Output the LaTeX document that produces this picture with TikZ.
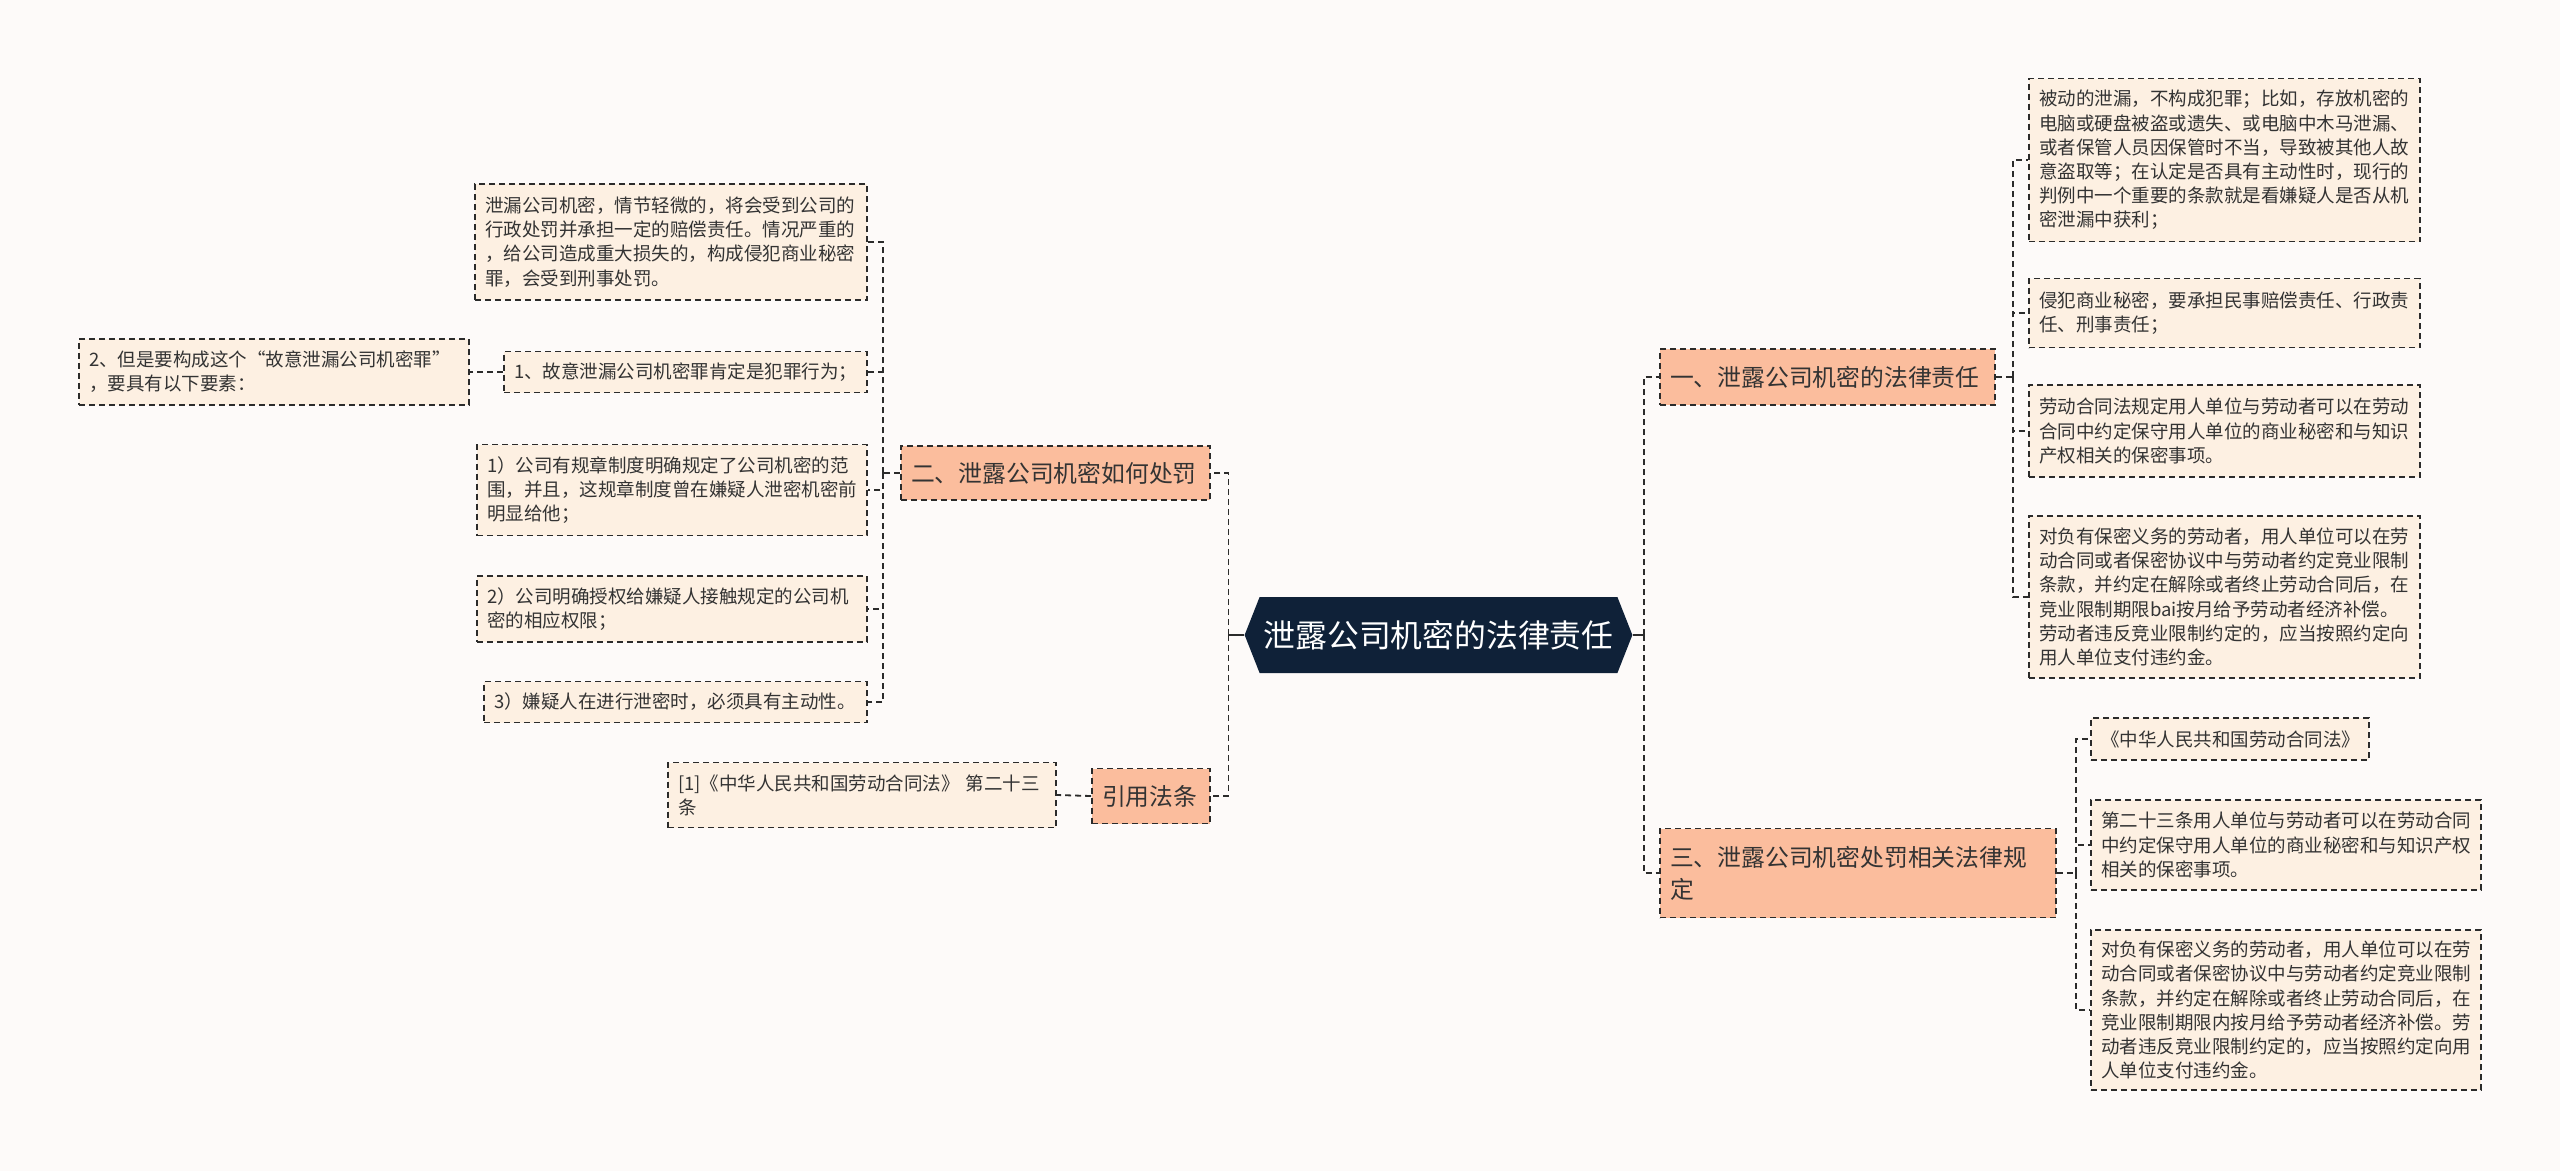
\documentclass[tikz,border=0pt]{standalone}
\usepackage{fontspec}
\setmainfont{Noto Sans CJK SC}
\usepackage{xcolor}
\usetikzlibrary{shapes.symbols}
\definecolor{paper}{HTML}{FDFAF9}
\definecolor{leafbg}{HTML}{FDF0E2}
\definecolor{branchbg}{HTML}{FBBD9D}
\definecolor{rootbg}{HTML}{0F2138}
\definecolor{ink}{HTML}{2B2B2B}
\definecolor{txt}{HTML}{333333}

\begin{document}
\begin{tikzpicture}[x=1pt,y=-1pt,
    box/.style={draw=ink,line width=1.8pt,dash pattern=on 6pt off 4pt,
        align=left,inner xsep=10pt,inner ysep=0pt,text=txt},
    leaf/.style={box,fill=leafbg,font=\fontsize{18.5}{24.2}\selectfont},
    branch/.style={box,fill=branchbg,font=\fontsize{23.8}{32}\selectfont},
    root/.style={signal,signal to=west and east,signal pointer angle=137,
        fill=rootbg,text=white,font=\fontsize{31.8}{36}\selectfont,
        minimum height=76pt,inner xsep=4pt},
    link/.style={draw=ink,line width=1.8pt,dash pattern=on 6pt off 4pt},
    stem/.style={draw=ink,line width=2.5pt}]
\fill [paper] (0,0) rectangle (2560,1171);

\path
    (1438.5,635) node [root] (root) {泄露公司机密的法律责任};

\path
    (1055.5,473) node [branch,text width=289pt,minimum height=54pt] (punish) {二、泄露公司机密如何处罚}
    (1151,796) node [branch,text width=98pt,minimum height=55pt] (cite) {引用法条}
    (1827.5,377) node [branch,text width=315pt,minimum height=56pt] (duty) {一、泄露公司机密的法律责任}
    (1858,873) node [branch,text width=376pt,minimum height=89pt] (statute) {三、泄露公司机密处罚相关法律规\\定};

\path
    (671,242) node [leaf,text width=372pt,minimum height=116pt] (minor) {泄漏公司机密，情节轻微的，将会受到公司的\\行政处罚并承担一定的赔偿责任。情况严重的\\，给公司造成重大损失的，构成侵犯商业秘密\\罪，会受到刑事处罚。}
    (685.5,372) node [leaf,text width=343pt,minimum height=41pt] (intent) {1、故意泄漏公司机密罪肯定是犯罪行为；}
    (274,372) node [leaf,text width=370pt,minimum height=66pt] (elements) {2、但是要构成这个“故意泄漏公司机密罪”\\，要具有以下要素：}
    (672,490) node [leaf,text width=370pt,minimum height=91pt] (scope) {1）公司有规章制度明确规定了公司机密的范\\围，并且，这规章制度曾在嫌疑人泄密机密前\\明显给他；}
    (672,609) node [leaf,text width=370pt,minimum height=66pt] (grant) {2）公司明确授权给嫌疑人接触规定的公司机\\密的相应权限；}
    (675.5,702) node [leaf,text width=363pt,minimum height=41pt] (active) {3）嫌疑人在进行泄密时，必须具有主动性。}
    (862,795) node [leaf,text width=368pt,minimum height=65pt] (article) {[1]《中华人民共和国劳动合同法》 第二十三\\条};

\path
    (2224.5,160) node [leaf,text width=371pt,minimum height=163pt] (passive) {被动的泄漏，不构成犯罪；比如，存放机密的\\电脑或硬盘被盗或遗失、或电脑中木马泄漏、\\或者保管人员因保管时不当，导致被其他人故\\意盗取等；在认定是否具有主动性时，现行的\\判例中一个重要的条款就是看嫌疑人是否从机\\密泄漏中获利；}
    (2224.5,313) node [leaf,text width=371pt,minimum height=69pt] (civil) {侵犯商业秘密，要承担民事赔偿责任、行政责\\任、刑事责任；}
    (2224.5,431) node [leaf,text width=371pt,minimum height=92pt] (contract) {劳动合同法规定用人单位与劳动者可以在劳动\\合同中约定保守用人单位的商业秘密和与知识\\产权相关的保密事项。}
    (2224.5,597) node [leaf,text width=371pt,minimum height=162pt] (noncomp) {对负有保密义务的劳动者，用人单位可以在劳\\动合同或者保密协议中与劳动者约定竞业限制\\条款，并约定在解除或者终止劳动合同后，在\\竞业限制期限bai按月给予劳动者经济补偿。\\劳动者违反竞业限制约定的，应当按照约定向\\用人单位支付违约金。}
    (2230,739) node [leaf,text width=258pt,minimum height=42pt] (lawname) {《中华人民共和国劳动合同法》}
    (2286,845) node [leaf,text width=370pt,minimum height=90pt] (art23) {第二十三条用人单位与劳动者可以在劳动合同\\中约定保守用人单位的商业秘密和与知识产权\\相关的保密事项。}
    (2286,1010) node [leaf,text width=370pt,minimum height=160pt] (clause) {对负有保密义务的劳动者，用人单位可以在劳\\动合同或者保密协议中与劳动者约定竞业限制\\条款，并约定在解除或者终止劳动合同后，在\\竞业限制期限内按月给予劳动者经济补偿。劳\\动者违反竞业限制约定的，应当按照约定向用\\人单位支付违约金。};

\draw [stem] (root.west) -- ++(-16,0) coordinate (lhub);
\draw [stem] (root.east) -- ++(11,0) coordinate (rhub);
\draw [link] (lhub) |- (punish.east);
\draw [link] (lhub) |- (cite.east);
\draw [link] (rhub) |- (duty.west);
\draw [link] (rhub) |- (statute.west);

\draw [link] (punish.west) -- ++(-17,0) coordinate (phub);
\foreach \leaf in {minor,intent,scope,grant,active}
    \draw [link] (phub) |- (\leaf.east);
\draw [link] (intent.west) -- (elements.east);
\draw [link] (cite.west) -- (article.east);

\draw [link] (duty.east) -- ++(17,0) coordinate (dhub);
\foreach \leaf in {passive,civil,contract,noncomp}
    \draw [link] (dhub) |- (\leaf.west);
\draw [link] (statute.east) -- ++(19,0) coordinate (shub);
\foreach \leaf in {lawname,art23,clause}
    \draw [link] (shub) |- (\leaf.west);
\end{tikzpicture}
\end{document}
